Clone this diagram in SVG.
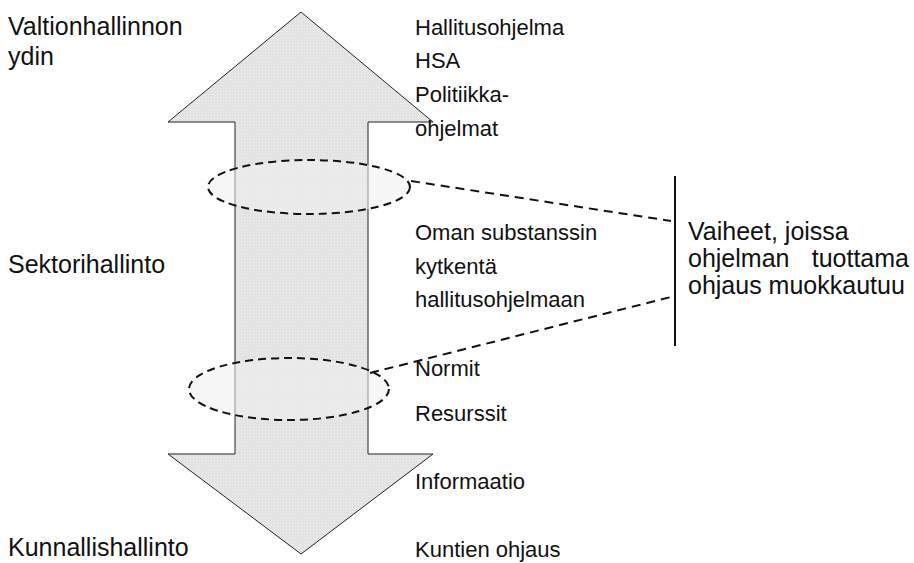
<svg xmlns="http://www.w3.org/2000/svg" width="914" height="563" viewBox="0 0 914 563">
  <style>
    .lbl { font-family: "Liberation Sans", Arial, sans-serif; fill: #111; }
    .big { font-size: 25px; }
    .sm { font-size: 22px; }
    .dash { fill: none; stroke: #111; stroke-width: 2; stroke-dasharray: 9 6; }
    .oval { fill: #f0f0f0; fill-opacity: 0.55; stroke: #111; stroke-width: 2; stroke-dasharray: 8 5; }
  </style>
  <defs>
    <pattern id="dots" width="3" height="3" patternUnits="userSpaceOnUse">
      <rect width="3" height="3" fill="#e3e3e3"/>
      <rect x="1" y="1" width="1" height="1" fill="#efefef"/>
    </pattern>
  </defs>
  <rect width="914" height="563" fill="#ffffff"/>

  <g id="arrow">
    <polygon points="301,12 433,122 368,122 368,454 433,454 301,554 168,454 235,454 235,122 168,122" fill="url(#dots)" stroke="#222" stroke-width="1"/>
  </g>

  <g id="oval-top">
    <ellipse cx="309" cy="187" rx="101" ry="27" class="oval"/>
  </g>
  <g id="oval-bottom">
    <ellipse cx="289" cy="389" rx="100" ry="31" class="oval"/>
  </g>

  <g id="connectors">
    <line x1="411" y1="181" x2="671" y2="221" class="dash"/>
    <line x1="370" y1="373" x2="671" y2="297" class="dash"/>
    <line x1="675" y1="176" x2="675" y2="346" stroke="#111" stroke-width="2"/>
  </g>

  <g id="left-labels" class="lbl big">
    <text x="8" y="35">Valtionhallinnon</text>
    <text x="8" y="65">ydin</text>
    <text x="8" y="273">Sektorihallinto</text>
    <text x="8" y="556">Kunnallishallinto</text>
  </g>

  <g id="right-labels" class="lbl sm">
    <text x="415" y="35">Hallitusohjelma</text>
    <text x="415" y="68">HSA</text>
    <text x="415" y="102">Politiikka-</text>
    <text x="415" y="136">ohjelmat</text>
    <text x="415" y="240">Oman substanssin</text>
    <text x="415" y="274">kytkentä</text>
    <text x="415" y="307">hallitusohjelmaan</text>
    <text x="415" y="376">Normit</text>
    <text x="415" y="421">Resurssit</text>
    <text x="415" y="489">Informaatio</text>
    <text x="415" y="557">Kuntien ohjaus</text>
  </g>

  <g id="note" class="lbl big">
    <text x="688" y="240">Vaiheet, joissa</text>
    <text x="688" y="267">ohjelman</text>
    <text x="909" y="267" text-anchor="end">tuottama</text>
    <text x="688" y="294">ohjaus muokkautuu</text>
  </g>
</svg>
